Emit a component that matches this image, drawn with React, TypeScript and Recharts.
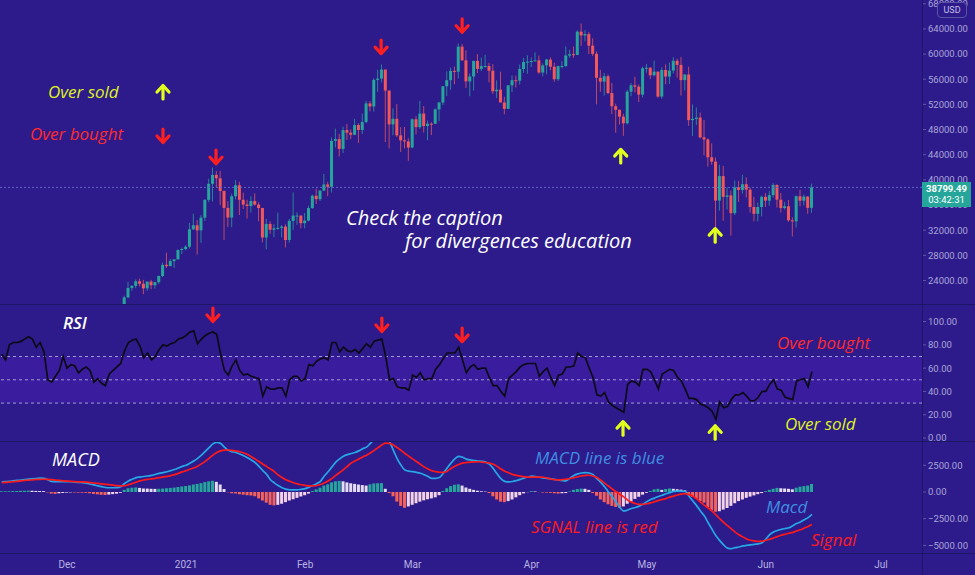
import {
  ComposedChart,
  Bar,
  Line,
  XAxis,
  YAxis,
  Cell,
  ReferenceLine,
  ReferenceArea,
  ReferenceDot,
} from "recharts";

// day numbers are counted from 1 Dec 2020 (= 0)
const FIRST_INDICATOR_DAY = -17; // 14 Nov 2020
const FIRST_CANDLE_DAY = 15; // 16 Dec 2020
const X_DOMAIN = [-17.45, 222.66];

const monthTicks = [0, 31, 62, 90, 121, 151, 182, 212];
const monthLabels = ["Dec", "2021", "Feb", "Mar", "Apr", "May", "Jun", "Jul"];

// prices in thousands of USD
const priceTicks = [24, 28, 32, 36, 40, 44, 48, 52, 56, 60, 64, 68];
const rsiTicks = [0, 20, 40, 60, 80, 100];
const macdTicks = [-5000, -2500, 0, 2500];
const lastPrice = 38.79949;

// [open, high, low, close]
const candlesDec = [
  [19.43, 21.56, 19.28, 21.31], [21.31, 23.8, 21.23, 22.81], [22.81, 23.27, 22.35, 23.14],
  [23.14, 24.17, 22.77, 23.87], [23.87, 24.29, 23.07, 23.48], [23.48, 24.1, 21.82, 22.75],
  [22.75, 23.84, 22.35, 23.82], [23.82, 24.1, 22.6, 23.24], [23.24, 23.79, 22.7, 23.73],
  [23.73, 24.79, 23.46, 24.71], [24.71, 26.87, 24.52, 26.49], [26.49, 28.42, 25.97, 26.28],
  [26.28, 27.41, 26.28, 27.08], [27.08, 27.37, 25.99, 27.36], [27.36, 28.94, 27.36, 28.84],
  [28.84, 29.24, 28.2, 29.0],
];
const candlesJan = [
  [29.0, 29.6, 28.8, 29.37], [29.37, 33.16, 29.09, 32.13], [32.13, 34.61, 32.05, 32.78],
  [32.78, 33.6, 28.13, 31.97], [31.97, 34.4, 29.98, 33.99], [33.99, 36.94, 33.46, 36.82],
  [36.82, 40.18, 36.47, 39.37], [39.37, 41.95, 36.57, 40.79], [40.79, 41.38, 38.75, 40.25],
  [40.25, 41.42, 35.98, 38.24], [38.24, 38.26, 30.42, 35.54], [35.54, 36.6, 32.52, 34.01],
  [34.01, 37.8, 32.47, 37.39], [37.39, 39.97, 36.87, 39.15], [39.15, 39.7, 34.41, 36.83],
  [36.83, 37.95, 35.36, 36.07], [36.07, 36.85, 33.85, 35.84], [35.84, 37.38, 34.8, 36.63],
  [36.63, 37.86, 35.9, 36.07], [36.07, 36.42, 33.41, 35.52], [35.52, 35.55, 30.07, 30.83],
  [30.83, 33.8, 28.95, 32.99], [32.99, 33.43, 31.42, 32.07], [32.07, 32.94, 30.91, 32.29],
  [32.29, 34.8, 32.07, 32.37], [32.37, 32.79, 30.84, 32.57], [32.57, 32.92, 29.24, 30.43],
  [30.43, 33.78, 30.02, 33.47], [33.47, 38.0, 31.99, 34.32], [34.32, 34.86, 32.84, 34.32],
  [34.32, 34.32, 32.3, 33.11],
];
const candlesFeb = [
  [33.11, 34.72, 32.3, 33.52], [33.52, 35.9, 33.4, 35.51], [35.51, 37.66, 35.38, 37.47],
  [37.47, 38.59, 36.16, 36.93], [36.93, 38.31, 36.62, 38.29], [38.29, 40.95, 38.22, 39.26],
  [39.26, 39.69, 37.39, 38.9], [38.9, 46.75, 37.99, 46.2], [46.2, 48.14, 45.15, 46.48],
  [46.48, 47.31, 43.73, 44.92], [44.92, 48.46, 44.27, 47.91], [47.91, 48.9, 46.35, 47.5],
  [47.5, 48.03, 46.47, 47.17], [47.17, 49.71, 47.1, 48.72], [48.72, 49.0, 45.88, 47.94],
  [47.94, 50.53, 47.33, 49.2], [49.2, 52.58, 49.01, 52.15], [52.15, 52.53, 50.9, 51.68],
  [51.68, 56.17, 50.86, 55.89], [55.89, 57.51, 54.0, 56.1], [56.1, 58.35, 55.5, 57.54],
  [57.54, 57.54, 46.0, 54.2], [54.2, 54.2, 45.0, 48.82], [48.82, 51.37, 47.1, 49.71],
  [49.71, 52.04, 46.82, 47.07], [47.07, 48.37, 44.45, 46.28], [46.28, 48.39, 45.0, 46.11],
  [46.11, 46.63, 43.02, 45.14],
];
const candlesMar = [
  [45.14, 49.78, 45.03, 49.63], [49.63, 50.13, 47.23, 48.38], [48.38, 52.54, 48.11, 50.54],
  [50.54, 51.74, 47.53, 48.56], [48.56, 49.43, 46.3, 48.93], [48.93, 49.17, 47.14, 48.91],
  [48.91, 51.38, 48.91, 51.21], [51.21, 52.4, 49.33, 52.3], [52.3, 54.9, 51.88, 54.88],
  [54.88, 57.26, 53.32, 55.85], [55.85, 57.84, 54.34, 57.33], [57.33, 58.0, 55.2, 57.2],
  [57.2, 61.68, 56.1, 61.18], [61.18, 61.6, 58.95, 59.0], [59.0, 60.6, 54.6, 55.66],
  [55.66, 56.93, 53.3, 56.44], [56.44, 58.97, 54.2, 58.91], [58.91, 60.0, 56.97, 57.64],
  [57.64, 59.45, 57.29, 58.08], [58.08, 59.87, 57.83, 58.1], [58.1, 58.59, 55.5, 57.35],
  [57.35, 58.4, 53.65, 54.09], [54.09, 55.83, 53.0, 54.34], [54.34, 57.2, 52.97, 52.3],
  [52.3, 53.21, 50.43, 51.29], [51.29, 55.07, 51.29, 55.02], [55.02, 56.59, 53.96, 55.84],
  [55.84, 56.56, 54.69, 55.77], [55.77, 58.34, 55.14, 57.63], [57.63, 59.41, 57.02, 58.73],
  [58.73, 59.8, 56.87, 58.79],
];
const candlesApr = [
  [58.79, 59.46, 57.94, 58.9], [58.9, 60.27, 58.89, 59.0], [59.0, 59.75, 56.86, 57.07],
  [57.07, 58.5, 56.48, 58.2], [58.2, 59.25, 56.79, 59.12], [59.12, 59.47, 57.41, 57.99],
  [57.99, 58.63, 55.6, 56.0], [56.0, 58.15, 55.7, 58.08], [58.08, 58.9, 57.7, 58.1],
  [58.1, 61.22, 57.9, 59.77], [59.77, 60.69, 59.4, 59.98], [59.98, 61.2, 59.4, 59.86],
  [59.86, 63.77, 59.84, 63.57], [63.57, 64.86, 61.3, 62.96], [62.96, 63.8, 62.06, 63.18],
  [63.18, 63.52, 60.0, 61.34], [61.34, 62.5, 59.7, 60.04], [60.04, 60.44, 52.0, 56.23],
  [56.23, 57.5, 54.0, 55.63], [55.63, 57.0, 53.4, 56.47], [56.47, 56.74, 53.61, 53.8],
  [53.8, 55.4, 50.45, 51.7], [51.7, 52.12, 47.5, 51.14], [51.14, 51.17, 48.8, 50.05],
  [50.05, 50.5, 47.0, 49.0], [49.0, 54.33, 48.8, 54.02], [54.02, 55.4, 53.3, 55.03],
  [55.03, 56.4, 53.9, 54.82], [54.82, 55.19, 52.37, 53.56], [53.56, 58.0, 53.1, 57.75],
];
const candlesMay = [
  [57.75, 58.45, 57.05, 57.83], [57.83, 57.9, 56.04, 56.63], [56.63, 58.96, 56.44, 57.21],
  [57.21, 57.21, 53.06, 53.24], [53.24, 57.9, 52.9, 57.47], [57.47, 58.36, 55.2, 56.43],
  [56.43, 58.65, 55.24, 57.38], [57.38, 59.5, 56.9, 58.93], [58.93, 59.27, 56.26, 58.28],
  [58.28, 59.52, 53.4, 55.86], [55.86, 56.84, 54.22, 56.75], [56.75, 58.0, 48.6, 49.5],
  [49.5, 52.0, 46.98, 49.7], [49.7, 51.5, 48.7, 49.9], [49.9, 50.7, 46.6, 46.76],
  [46.76, 49.5, 43.9, 46.43], [46.43, 46.6, 42.1, 43.59], [43.59, 45.8, 42.4, 42.9],
  [42.9, 43.55, 30.0, 36.7], [36.7, 42.4, 35.1, 40.6], [40.6, 42.2, 33.5, 37.3],
  [37.3, 38.8, 35.3, 37.53], [37.53, 38.3, 31.1, 34.7], [34.7, 39.9, 34.4, 38.8],
  [38.8, 39.8, 36.5, 38.4], [38.4, 40.8, 37.8, 39.3], [39.3, 40.4, 37.2, 38.44],
  [38.44, 38.8, 34.8, 35.68], [35.68, 37.3, 33.4, 34.6], [34.6, 36.4, 33.4, 35.68],
  [35.68, 37.5, 34.2, 37.3],
];
const candlesJun = [
  [37.3, 37.9, 35.7, 36.7], [36.7, 38.2, 35.9, 37.57], [37.57, 39.48, 37.2, 39.19],
  [39.19, 39.29, 35.6, 36.85], [36.85, 37.9, 34.8, 35.52], [35.52, 36.48, 35.26, 35.8],
  [35.8, 36.79, 33.35, 33.56], [33.56, 34.07, 31.0, 33.4], [33.4, 37.53, 32.4, 37.39],
  [37.39, 38.4, 35.8, 36.69], [36.69, 37.69, 35.94, 37.34], [37.34, 37.44, 34.6, 35.55],
  [35.55, 39.4, 34.76, 38.8],
];

// daily from 14 Nov 2020 to 13 Jun 2021
const rsi = [
  72, 67, 80, 82, 82, 83, 85, 87, 85, 78,
  82, 74, 50, 48, 53, 58, 70, 60, 63, 62,
  56, 59, 61, 58, 48, 51, 47, 45, 55, 58,
  61, 64, 75, 82, 84, 85, 79, 69, 73, 67,
  70, 76, 80, 79, 81, 82, 85, 86, 88, 91,
  92, 81, 85, 88, 90, 91, 89, 72, 58, 54,
  62, 67, 58, 54, 55, 53, 52, 51, 36, 44,
  42, 42, 43, 43, 36, 50, 53, 53, 49, 51,
  63, 62, 66, 68, 69, 67, 82, 82, 74, 78,
  75, 74, 76, 73, 77, 81, 78, 83, 84, 85,
  70, 50, 51, 44, 43, 43, 41, 54, 52, 56,
  50, 51, 51, 59, 63, 68, 73, 73, 73, 78,
  67, 56, 61, 63, 59, 60, 60, 52, 45, 45,
  40, 36, 51, 54, 57, 61, 63, 64, 64, 64,
  53, 57, 60, 52, 45, 54, 55, 61, 61, 62,
  73, 70, 69, 60, 52, 37, 36, 39, 31, 28,
  26, 24, 22, 46, 49, 48, 45, 59, 59, 57,
  50, 42, 55, 57, 59, 58, 52, 49, 42, 34,
  34, 33, 29, 28, 26, 23, 16, 31, 26, 27,
  33, 37, 37, 39, 36, 32, 32, 35, 40, 40,
  46, 50, 42, 41, 35, 34, 33, 49, 50, 51,
  44, 57,
];
const macdLine = [
  940, 970, 1000, 1040, 1080, 1120, 1170, 1200, 1230, 1260,
  1290, 1280, 1150, 990, 970, 980, 975, 975, 960, 930,
  900, 880, 830, 750, 660, 580, 500, 420, 400, 400,
  410, 500, 800, 1040, 1200, 1350, 1400, 1450, 1500, 1550,
  1650, 1750, 1820, 1900, 2000, 2100, 2250, 2400, 2500, 2700,
  2900, 3150, 3450, 3800, 4150, 4500, 4650, 4550, 4200, 3900,
  3780, 3700, 3560, 3400, 3200, 3000, 2750, 2400, 2000, 1650,
  1150, 850, 600, 400, 270, 200, 190, 200, 250, 310,
  450, 600, 780, 1000, 1500, 1900, 2350, 2800, 3100, 3350,
  3500, 3600, 3700, 3850, 4050, 4200, 4550, 4900, 5200, 5400,
  5200, 4700, 3900, 3100, 2500, 2050, 1950, 1900, 1830, 1750,
  1620, 1450, 1270, 1280, 1350, 1750, 2250, 2700, 3100, 3330,
  3250, 3080, 3000, 2950, 2900, 2870, 2800, 2600, 2200, 1700,
  1250, 1000, 950, 980, 1060, 1180, 1300, 1400, 1480, 1450,
  1380, 1330, 1270, 1220, 1180, 1120, 1070, 1050, 1300, 1550,
  1700, 1780, 1820, 1780, 1620, 1250, 900, 500, 0, -450,
  -950, -1450, -1790, -1680, -1550, -1450, -1320, -1150, -900, -700,
  -570, -420, -300, -170, -60, 60, 90, 90, 50, -400,
  -850, -1300, -1800, -2250, -2900, -3500, -4100, -4550, -4950, -5250,
  -5300, -5200, -5150, -5050, -5000, -4950, -4900, -4850, -4750, -4400,
  -4000, -3750, -3600, -3500, -3420, -3350, -3150, -2950, -2800, -2600,
  -2400, -2100,
];
const signalLine = [
  880, 900, 930, 960, 1000, 1040, 1080, 1110, 1140, 1170,
  1190, 1195, 1180, 1150, 1110, 1080, 1050, 1020, 990, 970,
  955, 943, 920, 880, 840, 800, 760, 720, 680, 640,
  600, 570, 590, 680, 800, 920, 1040, 1120, 1180, 1230,
  1280, 1340, 1410, 1470, 1540, 1620, 1740, 1880, 2000, 2130,
  2250, 2420, 2630, 2870, 3150, 3450, 3700, 3850, 3920, 3930,
  3900, 3840, 3770, 3650, 3500, 3300, 3080, 2850, 2600, 2380,
  2150, 1900, 1600, 1350, 1150, 1000, 870, 760, 680, 620,
  570, 580, 610, 700, 850, 1020, 1280, 1560, 1820, 2100,
  2400, 2700, 2900, 3080, 3280, 3450, 3650, 3900, 4150, 4400,
  4580, 4550, 4400, 4150, 3900, 3600, 3350, 3100, 2850, 2600,
  2350, 2150, 1990, 1900, 1850, 1830, 1950, 2200, 2400, 2570,
  2700, 2760, 2800, 2820, 2830, 2800, 2760, 2700, 2600, 2400,
  2150, 1950, 1800, 1650, 1550, 1480, 1430, 1400, 1400, 1400,
  1390, 1380, 1300, 1220, 1160, 1130, 1150, 1200, 1260, 1350,
  1430, 1500, 1560, 1570, 1500, 1360, 1100, 830, 560, 280,
  20, -220, -450, -760, -950, -1080, -1160, -1160, -1100, -1020,
  -900, -800, -700, -620, -480, -380, -280, -200, -150, -250,
  -400, -650, -950, -1250, -1500, -1790, -2150, -2500, -2850, -3150,
  -3450, -3750, -4000, -4200, -4400, -4520, -4580, -4620, -4600, -4520,
  -4420, -4300, -4180, -4050, -3950, -3860, -3780, -3650, -3540, -3380,
  -3220, -3050,
];
const histogram = [
  60, 70, 80, 90, 100, 110, 120, 125, 110, 100,
  90, 80, -40, -150, -180, -120, -90, -60, -40, -50,
  -60, -70, -80, -120, -180, -220, -260, -280, -240, -200,
  -160, -80, 200, 350, 400, 430, 380, 330, 320, 300,
  290, 300, 320, 350, 380, 410, 470, 520, 560, 620,
  700, 760, 830, 930, 1000, 1050, 950, 700, 280, -30,
  -120, -140, -210, -250, -300, -330, -400, -600, -800, -1000,
  -1200, -1250, -1200, -1100, -950, -800, -680, -550, -420, -300,
  -150, 100, 250, 400, 600, 720, 900, 1000, 1040, 1000,
  900, 820, 760, 700, 650, 600, 720, 800, 820, 830,
  300, -100, -400, -900, -1300, -1480, -1350, -1200, -1050, -900,
  -780, -680, -600, -500, -300, 100, 350, 550, 680, 720,
  600, 420, 300, 200, 120, 70, 40, -100, -400, -700,
  -900, -950, -850, -700, -500, -300, -130, -20, 80, 50,
  -10, -50, -60, -80, -120, -150, -120, -100, 50, 200,
  280, 320, 300, 200, -100, -350, -700, -950, -1150, -1300,
  -1400, -1480, -1350, -1100, -900, -650, -450, -250, -80, 100,
  250, 300, 200, 280, 330, 300, 260, 220, 150, -200,
  -450, -650, -850, -1000, -1400, -1700, -1850, -1800, -1650, -1500,
  -1300, -1050, -850, -700, -550, -430, -320, -200, -100, 80,
  200, 300, 380, 350, 330, 300, 250, 400, 500, 550,
  600, 750,
];

// [day, value] where the arrows point
const pricePeakArrows = [[38.8, 43.6], [81.8, 61.1], [102.9, 64.5]];
const priceTroughArrows = [[144.2, 43.8], [168.8, 31.2]];
const rsiPeakArrows = [[38.0, 105.6], [82.0, 97.0], [102.9, 88.4]];
const rsiTroughArrows = [[144.8, 8.5], [168.8, 5.0]];

const BG = "#2d1b8b";
const BAND = "#3a1d9f";
const AXIS_TEXT = "#aaa4d8";
const EDGE = "#1d1566";
const TEAL = "#26a69a";
const CANDLE_RED = "#f2585a";
const ARROW_RED = "#ff1f1f";
const ARROW_YELLOW = "#e2ff1c";
const TEXT_BLUE = "#3f8ee0";

const allCandles = [
  ...candlesDec, ...candlesJan, ...candlesFeb, ...candlesMar,
  ...candlesApr, ...candlesMay, ...candlesJun,
];
const priceData = allCandles.map((c, i) => ({
  d: FIRST_CANDLE_DAY + i,
  range: [c[2], c[1]],
  open: c[0],
  close: c[3],
}));
const indicatorData = rsi.map((v, i) => ({
  d: FIRST_INDICATOR_DAY + i,
  rsi: v,
  macd: macdLine[i],
  signal: signalLine[i],
  hist: histogram[i],
}));

function histColor(i: number) {
  const v = histogram[i];
  const prev = i > 0 ? histogram[i - 1] : 0;
  if (v >= 0) return v >= prev ? TEAL : "#e4dcf2";
  return v <= prev ? "#f4605a" : "#f3d2e6";
}

function Candle(props: any) {
  const { x, y, width, height, payload } = props;
  const [low, high] = payload.range;
  const top = Math.min(y, y + height);
  const h = Math.abs(height);
  const k = high === low ? 0 : h / (high - low);
  const bodyTop = top + (high - Math.max(payload.open, payload.close)) * k;
  const bodyBot = top + (high - Math.min(payload.open, payload.close)) * k;
  const color = payload.close >= payload.open ? TEAL : CANDLE_RED;
  const cx = x + width / 2;
  return (
    <g>
      <line x1={cx} x2={cx} y1={top} y2={top + h} stroke={color} strokeOpacity={0.75} />
      <rect x={x} y={bodyTop} width={width} height={Math.max(1, bodyBot - bodyTop)} fill={color} />
    </g>
  );
}

function Arrow({ cx, cy, up, color }: { cx: number; cy: number; up?: boolean; color: string }) {
  const s = up ? -1 : 1;
  return (
    <g stroke={color} strokeWidth={3.2} strokeLinecap="round" strokeLinejoin="round" fill="none">
      <line x1={cx} y1={cy - 7 * s} x2={cx} y2={cy + 6 * s} />
      <polyline points={`${cx - 6},${cy} ${cx},${cy + 6.5 * s} ${cx + 6},${cy}`} />
    </g>
  );
}

const arrowShape = (up: boolean, color: string) => (p: any) => (
  <Arrow cx={p.cx} cy={p.cy} up={up} color={color} />
);

function Note({ text, left, cy, color, size = 17, weight = 400 }: any) {
  return (
    <div
      style={{
        position: "absolute",
        left,
        top: cy - size * 0.66,
        color,
        fontSize: size,
        fontStyle: "italic",
        fontWeight: weight,
        fontFamily: "'Open Sans', sans-serif",
        lineHeight: `${Math.round(size * 1.32)}px`,
        whiteSpace: "nowrap",
      }}
    >
      {text}
    </div>
  );
}

function LegendArrow({ x, y, up, color }: any) {
  return (
    <svg width={20} height={22} style={{ position: "absolute", left: x - 10, top: y - 11 }}>
      <Arrow cx={10} cy={11} up={up} color={color} />
    </svg>
  );
}

const yTick = { fill: AXIS_TEXT, fontSize: 9.5, fontFamily: "Roboto, sans-serif" };
const fmt2 = (v: number) => v.toFixed(2).replace("-", "\u2212");

function Hline({ y }: { y: number }) {
  return <div style={{ position: "absolute", left: 0, top: y, width: 975, height: 1, background: EDGE }} />;
}

export default function App() {
  return (
    <div
      style={{
        position: "fixed",
        left: 0,
        top: 0,
        width: 975,
        height: 575,
        background: BG,
        overflow: "hidden",
        fontFamily: "Roboto, sans-serif",
      }}
    >
      {/* price */}
      <div style={{ position: "absolute", left: 0, top: 0 }}>
        <ComposedChart width={975} height={305} data={priceData} margin={{ top: 0, right: 0, bottom: 0, left: 0 }}>
          <XAxis dataKey="d" type="number" domain={X_DOMAIN} allowDataOverflow hide />
          <YAxis
            orientation="right"
            width={53}
            domain={[20.1, 68.6]}
            allowDataOverflow
            ticks={priceTicks}
            interval={0}
            tickFormatter={(v) => (v * 1000).toFixed(2)}
            tick={yTick}
            tickSize={4}
            tickLine={{ stroke: "#5d56a8" }}
            axisLine={false}
          />
          <ReferenceLine y={lastPrice} stroke="#5b6bc4" strokeDasharray="2 2" />
          <Bar dataKey="range" barSize={3} shape={Candle} isAnimationActive={false} />
          {pricePeakArrows.map(([d, v]) => (
            <ReferenceDot key={`pp${d}`} x={d} y={v} shape={arrowShape(false, ARROW_RED)} />
          ))}
          {priceTroughArrows.map(([d, v]) => (
            <ReferenceDot key={`pt${d}`} x={d} y={v} shape={arrowShape(true, ARROW_YELLOW)} />
          ))}
        </ComposedChart>
      </div>

      {/* RSI */}
      <div style={{ position: "absolute", left: 0, top: 305 }}>
        <ComposedChart width={975} height={137} data={indicatorData} margin={{ top: 0, right: 0, bottom: 0, left: 0 }}>
          <XAxis dataKey="d" type="number" domain={X_DOMAIN} allowDataOverflow hide />
          <YAxis
            orientation="right"
            width={53}
            domain={[-3.4, 114.2]}
            allowDataOverflow
            ticks={rsiTicks}
            interval={0}
            tickFormatter={fmt2}
            tick={yTick}
            tickSize={4}
            tickLine={{ stroke: "#5d56a8" }}
            axisLine={false}
          />
          <ReferenceArea y1={30} y2={70} fill={BAND} fillOpacity={1} stroke="none" />
          {[70, 50, 30].map((v) => (
            <ReferenceLine key={v} y={v} stroke="#a39bd2" strokeDasharray="3 3" />
          ))}
          <Line dataKey="rsi" type="linear" stroke="#0c0a18" strokeWidth={1.7} dot={false} isAnimationActive={false} />
          {rsiPeakArrows.map(([d, v]) => (
            <ReferenceDot key={`rp${d}`} x={d} y={v} shape={arrowShape(false, ARROW_RED)} />
          ))}
          {rsiTroughArrows.map(([d, v]) => (
            <ReferenceDot key={`rt${d}`} x={d} y={v} shape={arrowShape(true, ARROW_YELLOW)} />
          ))}
        </ComposedChart>
      </div>

      {/* MACD */}
      <div style={{ position: "absolute", left: 0, top: 442 }}>
        <ComposedChart width={975} height={133} data={indicatorData} margin={{ top: 0, right: 0, bottom: 0, left: 0 }}>
          <XAxis
            dataKey="d"
            type="number"
            domain={X_DOMAIN}
            allowDataOverflow
            ticks={monthTicks}
            interval={0}
            tickFormatter={(v) => monthLabels[monthTicks.indexOf(v)]}
            tick={{ fill: "#b9b3e2", fontSize: 10, fontFamily: "Roboto, sans-serif" }}
            tickLine={false}
            axisLine={false}
            height={22}
          />
          <YAxis
            orientation="right"
            width={53}
            domain={[-5710, 4680]}
            allowDataOverflow
            ticks={macdTicks}
            interval={0}
            tickFormatter={fmt2}
            tick={yTick}
            tickSize={4}
            tickLine={{ stroke: "#5d56a8" }}
            axisLine={false}
          />
          <Bar dataKey="hist" barSize={3} isAnimationActive={false}>
            {indicatorData.map((_, i) => (
              <Cell key={i} fill={histColor(i)} />
            ))}
          </Bar>
          <Line dataKey="macd" type="monotone" stroke="#27a8e6" strokeWidth={1.7} dot={false} isAnimationActive={false} />
          <Line dataKey="signal" type="monotone" stroke="#ff1a1a" strokeWidth={1.7} dot={false} isAnimationActive={false} />
        </ComposedChart>
      </div>

      {/* panel edges */}
      <Hline y={304} />
      <Hline y={441} />
      <Hline y={553} />
      <div style={{ position: "absolute", left: 922, top: 0, width: 1, height: 575, background: EDGE }} />

      {/* last price badge */}
      <div
        style={{
          position: "absolute",
          left: 922,
          top: 182,
          width: 49,
          height: 25,
          background: TEAL,
          color: "#ffffff",
          fontSize: 9.5,
          lineHeight: "11px",
          paddingTop: 1,
          textAlign: "center",
          boxSizing: "border-box",
        }}
      >
        <div style={{ fontWeight: 700 }}>38799.49</div>
        <div>03:42:31</div>
      </div>
      <div
        style={{
          position: "absolute",
          left: 937,
          top: 2,
          width: 28,
          height: 14,
          border: "1px solid #5a54a6",
          borderRadius: 4,
          background: BG,
          color: "#c4bfe8",
          fontSize: 9,
          lineHeight: "14px",
          textAlign: "center",
        }}
      >
        USD
      </div>

      {/* notes */}
      <Note text="Over sold" left={48} cy={92} color="#dff21f" />
      <LegendArrow x={163} y={92} up color={ARROW_YELLOW} />
      <Note text="Over bought" left={30} cy={134} color="#ff2a2a" />
      <LegendArrow x={163} y={136} color={ARROW_RED} />
      <Note text="Check the caption" left={346} cy={218} color="#ffffff" size={20} />
      <Note text="for divergences education" left={405} cy={241} color="#ffffff" size={20} />
      <Note text="RSI" left={63} cy={323} color="#ffffff" size={17} weight={600} />
      <Note text="Over bought" left={777} cy={343} color="#ff2a2a" />
      <Note text="Over sold" left={785} cy={424} color="#dff21f" />
      <Note text="MACD" left={52} cy={459} color="#ffffff" size={18} />
      <Note text="MACD line is blue" left={535} cy={458} color={TEXT_BLUE} />
      <Note text="Macd" left={766} cy={507} color={TEXT_BLUE} />
      <Note text="SGNAL line is red" left={531} cy={527} color="#ff1c1c" />
      <Note text="Signal" left={811} cy={540} color="#ff1c1c" />
    </div>
  );
}
